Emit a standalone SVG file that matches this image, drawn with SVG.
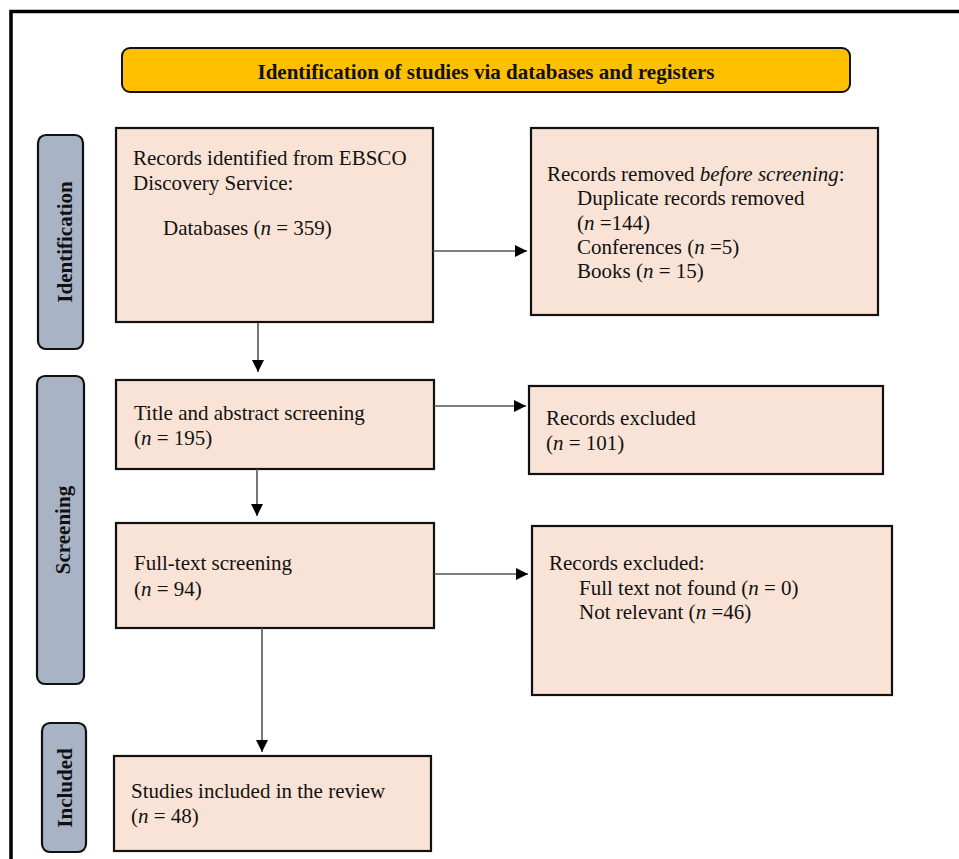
<svg xmlns="http://www.w3.org/2000/svg" width="959" height="859" viewBox="0 0 959 859">
<defs>
<style>
.box{fill:#F9E3D6;stroke:#111;stroke-width:2.2}
.side{fill:#A8B3C5;stroke:#111;stroke-width:2.2}
.hdr{fill:#FFC000;stroke:#111;stroke-width:2}
.t{font-family:"Liberation Serif","Times New Roman",serif;font-size:21px;fill:#111}
.b{font-family:"Liberation Serif","Times New Roman",serif;font-size:21px;font-weight:bold;fill:#111}
.c{stroke:#555;stroke-width:1.6;fill:none;marker-end:url(#ah)}
</style>
<marker id="ah" viewBox="0 0 10 10" refX="10" refY="5" markerUnits="userSpaceOnUse" markerWidth="12" markerHeight="12" orient="auto">
<path d="M0,0 L10,5 L0,10 Z" fill="#000"/>
</marker>
</defs>
<rect width="959" height="859" fill="#fff"/>
<g id="frame">
<path d="M11,859 L11,11.5 L959,11.5" fill="none" stroke="#000" stroke-width="3.5"/>
</g>
<g id="header">
<rect class="hdr" x="122" y="48" width="728" height="44" rx="8"/>
<text class="b" x="486" y="79" text-anchor="middle">Identification of studies via databases and registers</text>
</g>
<g id="lbl-identification">
<rect class="side" x="38" y="135" width="45" height="214" rx="8"/>
<text class="b" transform="translate(71.5,242) rotate(-90)" text-anchor="middle">Identification</text>
</g>
<g id="lbl-screening">
<rect class="side" x="37" y="376" width="47" height="308" rx="8"/>
<text class="b" transform="translate(70,530) rotate(-90)" text-anchor="middle">Screening</text>
</g>
<g id="lbl-included">
<rect class="side" x="42" y="723" width="44" height="129" rx="8"/>
<text class="b" transform="translate(72,788) rotate(-90)" text-anchor="middle">Included</text>
</g>
<g id="records-identified">
<rect class="box" x="116" y="128" width="317" height="194"/>
<text class="t" x="133" y="165">Records identified from EBSCO</text>
<text class="t" x="133" y="190">Discovery Service:</text>
<text class="t" x="163" y="235">Databases (<tspan font-style="italic">n</tspan> = 359)</text>
</g>
<g id="records-removed">
<rect class="box" x="531" y="128" width="347" height="187"/>
<text class="t" x="547" y="181">Records removed <tspan font-style="italic">before screening</tspan>:</text>
<text class="t" x="577" y="205">Duplicate records removed</text>
<text class="t" x="577" y="230">(<tspan font-style="italic">n</tspan> =144)</text>
<text class="t" x="577" y="254">Conferences (<tspan font-style="italic">n</tspan> =5)</text>
<text class="t" x="577" y="278">Books (<tspan font-style="italic">n</tspan> = 15)</text>
</g>
<g id="title-abstract">
<rect class="box" x="116" y="380" width="318" height="89"/>
<text class="t" x="134" y="420">Title and abstract screening</text>
<text class="t" x="134" y="445">(<tspan font-style="italic">n</tspan> = 195)</text>
</g>
<g id="excluded-1">
<rect class="box" x="529" y="386" width="354" height="88"/>
<text class="t" x="546" y="425">Records excluded</text>
<text class="t" x="546" y="450">(<tspan font-style="italic">n</tspan> = 101)</text>
</g>
<g id="full-text">
<rect class="box" x="116" y="523" width="318" height="105"/>
<text class="t" x="134" y="570">Full-text screening</text>
<text class="t" x="134" y="596">(<tspan font-style="italic">n</tspan> = 94)</text>
</g>
<g id="excluded-2">
<rect class="box" x="532" y="526" width="360" height="169"/>
<text class="t" x="549" y="570">Records excluded:</text>
<text class="t" x="579" y="595">Full text not found (<tspan font-style="italic">n</tspan> = 0)</text>
<text class="t" x="579" y="619">Not relevant (<tspan font-style="italic">n</tspan> =46)</text>
</g>
<g id="included">
<rect class="box" x="114" y="756" width="317" height="95"/>
<text class="t" x="131" y="798">Studies included in the review</text>
<text class="t" x="131" y="823">(<tspan font-style="italic">n</tspan> = 48)</text>
</g>
<g id="connectors">
<path class="c" d="M433,251 L527,251"/>
<path class="c" d="M258,323 L258,372"/>
<path class="c" d="M434,406 L526,406"/>
<path class="c" d="M257,469 L257,516"/>
<path class="c" d="M434,574 L528,574"/>
<path class="c" d="M262,628 L262,752"/>
</g>
</svg>
